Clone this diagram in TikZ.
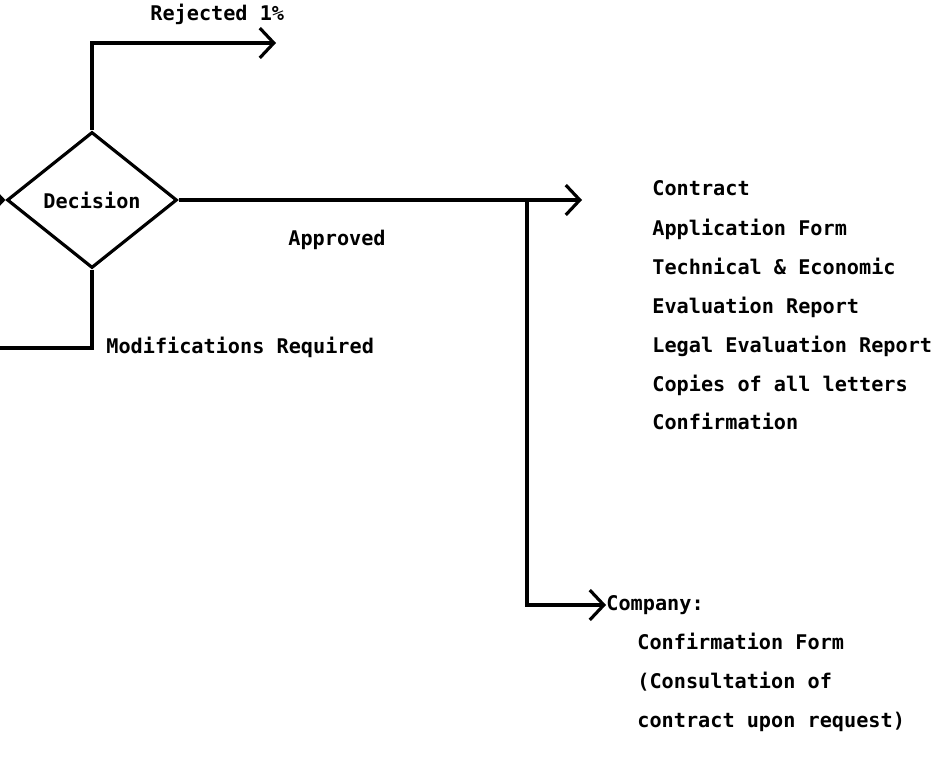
\documentclass[tikz,border=0pt]{standalone}
\usepackage{fontspec}
\setmonofont{DejaVu Sans Mono}
\usepackage{tikz}
\usetikzlibrary{shapes.geometric, arrows.meta, positioning}
\tikzset{
    decision/.style={
        diamond,
        draw=black,
        line width=1.8pt,
        inner sep=0pt,
        minimum width=3.4cm,
        minimum height=2.72cm,
        font=\fontsize{11.5}{13}\ttfamily\bfseries
    },
    flow/.style={
        draw=black,
        line width=1.8pt,
        -{Straight Barb[length=8pt, width=17pt, line width=1.8pt]}
    },
    plainline/.style={
        draw=black,
        line width=1.8pt
    },
    doc/.style={
        anchor=west,
        inner sep=0pt,
        text height=8.5pt,
        text depth=2.5pt,
        font=\fontsize{11.5}{13}\ttfamily\bfseries
    }
}

\begin{document}
\begin{tikzpicture}[x=0.02cm, y=-0.02cm]
\useasboundingbox (0,0) rectangle (942,760);

% Decision point
\node[decision] (dec) at (92,200) {Decision};
\coordinate (entry) at (-2,200);
\draw[flow] (entry) -- (dec.west);

% Rejected
\coordinate (rejend) at (276,43);
\draw[flow] (dec.north) |- (rejend);
\node[doc] (rejected) at (150,15) {Rejected 1\%};

% Approved
\coordinate (append) at (582,200);
\coordinate (branch) at (527,200);
\draw[flow] (dec.east) -- (append);
\node[doc, anchor=center] (approved) at (337,240) {Approved};

% Modifications required
\coordinate (modend) at (0,348);
\draw[plainline] (dec.south) |- (modend);
\node[doc] (modif) at (106,348) {Modifications Required};

% Documents sent on approval
\node[doc] (contract) at (652,190) {Contract};
\node[doc] (appform) at (652,230) {Application Form};
\node[doc] (techeco) at (652,269) {Technical \& Economic};
\node[doc] (evalrep) at (652,308) {Evaluation Report};
\node[doc] (legal) at (652,347) {Legal Evaluation Report};
\node[doc] (copies) at (652,386) {Copies of all letters};
\node[doc] (confirm) at (652,424) {Confirmation};

% Company branch
\node[doc] (company) at (606,605) {Company:};
\draw[flow] (branch) |- (company.west);
\node[doc] (confform) at (637,644) {Confirmation Form};
\node[doc] (consult) at (637,683) {(Consultation of};
\node[doc] (request) at (637,722) {contract upon request)};

\end{tikzpicture}
\end{document}
